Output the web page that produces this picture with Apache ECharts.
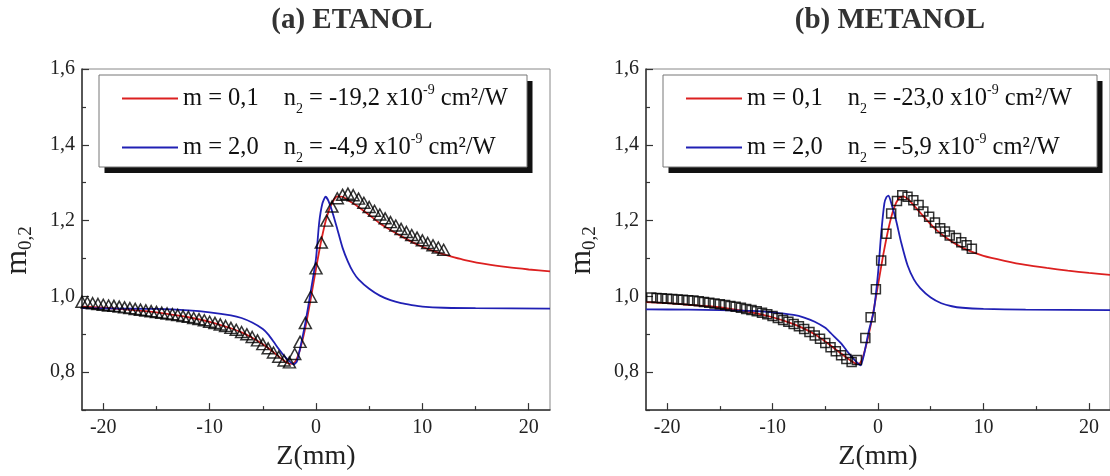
<!DOCTYPE html>
<html><head><meta charset="utf-8">
<script src="https://cdn.jsdelivr.net/npm/echarts@6/dist/echarts.min.js"></script>
<style>html,body{margin:0;padding:0;background:#fff}#c{width:1110px;height:476px}</style>
</head><body><div id="c"></div>
<script>
// ---------- data ----------
const panelTitles = ['(a) ETANOL', '(b) METANOL'];
const xAxisName = 'Z(mm)';
const xMajorTicks = [-20, -10, 0, 10, 20];
const xMinorTicks = [-15, -5, 5, 15];
const yMajorTicks = [0.8, 1.0, 1.2, 1.4, 1.6];
const yMinorTicks = [0.7, 0.9, 1.1, 1.3, 1.5];
const legendM = ['0,1', '2,0'];
const legendN2Etanol = ['-19,2', '-4,9'];
const legendN2Metanol = ['-23,0', '-5,9'];

const etanolExp = [[-22,0.986],[-21.5,0.984],[-21,0.982],[-20.5,0.980],[-20,0.978],[-19.5,0.976],[-19,0.975],[-18.5,0.973],[-18,0.971],[-17.5,0.969],[-17,0.967],[-16.5,0.965],[-16,0.963],[-15.5,0.961],[-15,0.959],[-14.5,0.957],[-14,0.955],[-13.5,0.953],[-13,0.951],[-12.5,0.948],[-12,0.946],[-11.5,0.943],[-11,0.940],[-10.5,0.937],[-10,0.933],[-9.5,0.930],[-9,0.926],[-8.5,0.922],[-8,0.917],[-7.5,0.912],[-7,0.906],[-6.5,0.900],[-6,0.893],[-5.5,0.884],[-5,0.874],[-4.5,0.863],[-4,0.852],[-3.5,0.841],[-3,0.831],[-2.5,0.826],[-2,0.848],[-1.5,0.880],[-1,0.930],[-0.5,0.999],[0,1.074],[0.5,1.142],[1,1.200],[1.5,1.237],[2,1.259],[2.5,1.268],[3,1.271],[3.5,1.267],[4,1.258],[4.5,1.247],[5,1.236],[5.5,1.226],[6,1.216],[6.5,1.206],[7,1.196],[7.5,1.187],[8,1.178],[8.5,1.170],[9,1.162],[9.5,1.155],[10,1.148],[10.5,1.141],[11,1.135],[11.5,1.129],[12,1.123]];
const etanolFitM01 = [[-22,0.973],[-20,0.970],[-18,0.966],[-16,0.961],[-14,0.954],[-12,0.945],[-10,0.933],[-8,0.916],[-7,0.905],[-6,0.891],[-5,0.874],[-4.5,0.864],[-4,0.853],[-3.5,0.841],[-3,0.830],[-2.6,0.823],[-2.2,0.822],[-1.9,0.830],[-1.5,0.860],[-1,0.918],[-0.5,0.993],[0,1.073],[0.5,1.148],[1,1.208],[1.5,1.246],[2,1.264],[2.5,1.263],[3,1.254],[4,1.236],[5,1.215],[6,1.193],[7,1.175],[8,1.159],[9,1.144],[10,1.131],[11,1.120],[12,1.111],[13,1.103],[14,1.096],[16,1.085],[18,1.077],[20,1.071],[22,1.066]];
const etanolFitM20 = [[-22,0.969],[-18,0.968],[-15,0.967],[-12,0.963],[-10,0.958],[-8,0.950],[-7,0.943],[-6,0.931],[-5,0.914],[-4.5,0.900],[-4,0.881],[-3.5,0.861],[-3,0.843],[-2.5,0.829],[-2.1,0.821],[-1.8,0.828],[-1.5,0.862],[-1,0.930],[-0.5,1.012],[0,1.100],[0.3,1.195],[0.6,1.245],[0.9,1.263],[1.2,1.250],[1.6,1.217],[2,1.178],[2.5,1.128],[3,1.092],[3.5,1.064],[4,1.045],[5,1.020],[6,1.002],[7,0.990],[8,0.982],[9,0.977],[10,0.973],[12,0.970],[15,0.969],[22,0.968]];

const metanolExp = [[-21.5,0.997],[-21,0.996],[-20.5,0.995],[-20,0.994],[-19.5,0.993],[-19,0.992],[-18.5,0.991],[-18,0.990],[-17.5,0.989],[-17,0.987],[-16.5,0.985],[-16,0.983],[-15.5,0.981],[-15,0.979],[-14.5,0.977],[-14,0.975],[-13.5,0.973],[-13,0.970],[-12.5,0.967],[-12,0.964],[-11.5,0.961],[-11,0.957],[-10.5,0.953],[-10,0.948],[-9.5,0.943],[-9,0.938],[-8.5,0.933],[-8,0.927],[-7.5,0.921],[-7,0.914],[-6.5,0.906],[-6,0.897],[-5.5,0.888],[-5,0.877],[-4.5,0.866],[-4,0.855],[-3.5,0.845],[-3,0.835],[-2.5,0.827],[-2,0.832],[-1.2,0.890],[-0.7,0.945],[-0.2,1.019],[0.3,1.095],[0.8,1.165],[1.25,1.219],[1.8,1.252],[2.3,1.267],[2.8,1.263],[3.35,1.254],[3.85,1.241],[4.3,1.224],[4.85,1.210],[5.4,1.195],[5.9,1.180],[6.35,1.171],[6.8,1.161],[7.4,1.154],[7.9,1.143],[8.4,1.135],[8.9,1.126]];
const metanolFitM01 = [[-22,0.985],[-20,0.982],[-18,0.978],[-16,0.974],[-14,0.967],[-12,0.958],[-10,0.945],[-8,0.927],[-7,0.915],[-6,0.900],[-5,0.881],[-4,0.860],[-3,0.839],[-2.5,0.829],[-2,0.822],[-1.7,0.824],[-1.4,0.843],[-1,0.885],[-0.5,0.950],[0,1.030],[0.5,1.110],[1,1.180],[1.5,1.232],[2,1.260],[2.4,1.264],[2.9,1.255],[3.5,1.237],[4.5,1.205],[5.5,1.176],[6.5,1.154],[7.5,1.136],[8.5,1.122],[10,1.107],[12,1.094],[14,1.083],[16,1.075],[18,1.068],[20,1.062],[22,1.057]];
const metanolFitM20 = [[-22,0.966],[-18,0.965],[-15,0.964],[-12,0.962],[-10,0.958],[-8,0.951],[-7,0.944],[-6,0.933],[-5,0.917],[-4.5,0.904],[-4,0.890],[-3.5,0.876],[-3,0.858],[-2.5,0.841],[-2,0.826],[-1.65,0.818],[-1.3,0.850],[-0.9,0.905],[-0.4,0.962],[0,1.060],[0.3,1.165],[0.6,1.245],[0.8,1.262],[1.0,1.266],[1.3,1.242],[1.7,1.202],[2.2,1.142],[2.8,1.082],[3.4,1.045],[4,1.022],[5,0.997],[6,0.982],[7,0.974],[8,0.970],[10,0.967],[14,0.965],[22,0.964]];

// ---------- chart ----------
const FONT = '"Liberation Serif", "Times New Roman", serif';
const RED = '#dc2020';
const BLUE = '#2020b4';
const TXT = '#222';
const legendInfo = {};
function legendName(m, n) {
  const name = 'm = ' + m + '    n2 = ' + n + ' x10-9 cm²/W';
  legendInfo[name] = {m: m, n: n};
  return name;
}
const names = [
  [legendName(legendM[0], legendN2Etanol[0]), legendName(legendM[1], legendN2Etanol[1])],
  [legendName(legendM[0], legendN2Metanol[0]), legendName(legendM[1], legendN2Metanol[1])]
];
const grids = [
  {left: 82, top: 69, width: 468, height: 346.5},
  {left: 646, top: 69, width: 469, height: 346.5}
];
const legendBoxes = [
  {x: 99, y: 75, w: 428, h: 92},
  {x: 663, y: 75, w: 434, h: 92}
];
const titlePos = [352, 890];

const xAxes = [], yAxes = [], series = [], legends = [], graphics = [];
const fmtY = v => v.toFixed(1).replace('.', ',');
grids.forEach((g, gi) => {
  xAxes.push({
    type: 'value', gridIndex: gi, min: -22, max: 22, position: 'bottom',
    name: xAxisName, nameLocation: 'middle', nameGap: 27,
    nameTextStyle: {fontFamily: FONT, fontSize: 28, color: TXT},
    axisLine: {show: true, onZero: false, lineStyle: {color: '#333', width: 1.5}},
    axisTick: {show: true, inside: true, length: 7, customValues: xMajorTicks, lineStyle: {color: '#333', width: 1.2}},
    axisLabel: {show: true, customValues: xMajorTicks, margin: 8, fontFamily: FONT, fontSize: 20, color: TXT, formatter: v => String(v)},
    splitLine: {show: false}
  });
  xAxes.push({
    type: 'value', gridIndex: gi, min: -22, max: 22, position: 'bottom',
    axisLine: {show: false, onZero: false},
    axisTick: {show: true, inside: true, length: 4, customValues: xMinorTicks, lineStyle: {color: '#333', width: 1.2}},
    axisLabel: {show: false}, splitLine: {show: false}
  });
  yAxes.push({
    type: 'value', gridIndex: gi, min: 0.7, max: 1.6, position: 'left',
    name: '{m|m}{s|0,2}', nameLocation: 'middle', nameGap: 46, nameRotate: 90,
    nameTextStyle: {fontFamily: FONT, color: TXT, padding: [0, 22, 0, 0], rich: {
      m: {fontFamily: FONT, fontSize: 32, color: TXT, lineHeight: 36, verticalAlign: 'middle'},
      s: {fontFamily: FONT, fontSize: 19, color: TXT, verticalAlign: 'bottom'}
    }},
    axisLine: {show: true, onZero: false, lineStyle: {color: '#333', width: 1.5}},
    axisTick: {show: true, inside: true, length: 7, customValues: yMajorTicks, lineStyle: {color: '#333', width: 1.2}},
    axisLabel: {show: true, customValues: yMajorTicks, margin: 7, fontFamily: FONT, fontSize: 20, color: TXT, formatter: fmtY},
    splitLine: {show: false}
  });
  yAxes.push({
    type: 'value', gridIndex: gi, min: 0.7, max: 1.6, position: 'left',
    axisLine: {show: false, onZero: false},
    axisTick: {show: true, inside: true, length: 4, customValues: yMinorTicks, lineStyle: {color: '#333', width: 1.2}},
    axisLabel: {show: false}, splitLine: {show: false}
  });
});

const fits = [[etanolFitM01, etanolFitM20], [metanolFitM01, metanolFitM20]];
const exps = [etanolExp, metanolExp];
const symbols = ['triangle', 'rect'];
const symbolSizes = [[12, 11], [9, 9]];
[0, 1].forEach(gi => {
  [RED, BLUE].forEach((col, k) => {
    series.push({
      type: 'line', name: names[gi][k], xAxisIndex: gi * 2, yAxisIndex: gi * 2,
      data: fits[gi][k], symbol: 'none', smooth: 0.2, color: col,
      lineStyle: {color: col, width: 1.8}, z: 2, silent: true
    });
  });
  series.push({
    type: 'scatter', name: 'exp' + gi, xAxisIndex: gi * 2, yAxisIndex: gi * 2,
    data: exps[gi], symbol: symbols[gi], symbolSize: symbolSizes[gi],
    itemStyle: {color: 'rgba(255,255,255,0)', borderColor: '#000', borderWidth: 1.5},
    z: 3, silent: true
  });
  const b = legendBoxes[gi];
  graphics.push({type: 'rect', z: 5, silent: true,
    shape: {x: b.x + 5.5, y: b.y + 6, width: b.w, height: b.h},
    style: {fill: '#111', stroke: null}});
  graphics.push({type: 'rect', z: 6, silent: true,
    shape: {x: b.x, y: b.y, width: b.w, height: b.h},
    style: {fill: '#fff', stroke: '#777', lineWidth: 1}});
  legends.push({
    data: names[gi], left: b.x, top: b.y, orient: 'vertical', z: 8,
    backgroundColor: 'transparent', borderWidth: 0,
    padding: [8.6, 10, 4, 23], itemGap: 15.8, itemWidth: 56, itemHeight: 2, icon: 'rect',
    selectedMode: false,
    textStyle: {fontFamily: FONT, fontSize: 24.5, color: '#111', rich: {
      t: {fontFamily: FONT, fontSize: 24.5, color: '#111', lineHeight: 36, verticalAlign: 'middle'},
      sub: {fontFamily: FONT, fontSize: 14, color: '#111', verticalAlign: 'bottom'},
      sup: {fontFamily: FONT, fontSize: 14, color: '#111', verticalAlign: 'top', padding: [3, 0, 0, 0]},
      g: {width: 25}
    }},
    formatter: name => {
      const info = legendInfo[name];
      return '{t|m = ' + info.m + '}{g| }{t|n}{sub|2}{t| = ' + info.n + ' x10}{sup|-9}{t| cm²/W}';
    }
  });
  graphics.push({
    type: 'text', x: titlePos[gi], y: 21, z: 6,
    style: {text: panelTitles[gi], fontFamily: FONT, fontSize: 29, fontWeight: 'bold', fill: '#333',
      textAlign: 'center', textVerticalAlign: 'middle'}
  });
});

const chart = echarts.init(document.getElementById('c'), null, {renderer: 'canvas'});
chart.setOption({
  animation: false,
  backgroundColor: '#fff',
  grid: grids.map(g => Object.assign({show: true, borderColor: '#888', borderWidth: 1, backgroundColor: 'transparent', containLabel: false}, g)),
  xAxis: xAxes, yAxis: yAxes, series: series, legend: legends, graphic: graphics
});
</script></body></html>
